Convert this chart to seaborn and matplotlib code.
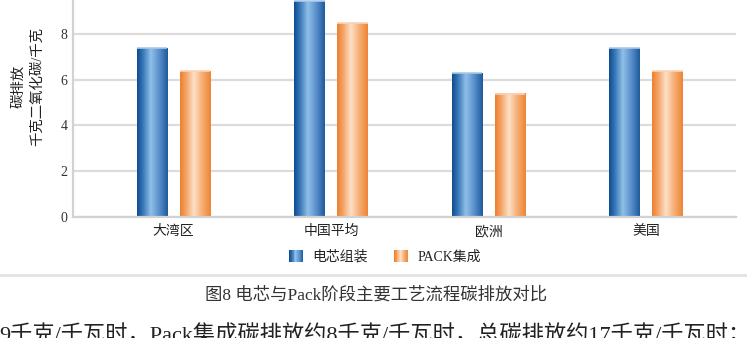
import numpy as np
import pandas as pd
import matplotlib
matplotlib.use("Agg")
import matplotlib.pyplot as plt
import seaborn as sns
from matplotlib.colors import LinearSegmentedColormap, to_hex
from matplotlib.legend_handler import HandlerBase
from matplotlib.patches import Rectangle, Patch
from matplotlib.lines import Line2D

# ---------------- data ----------------
regions = ['大湾区', '中国平均', '欧洲', '美国']
cell_assembly = [7.4, 9.45, 6.3, 7.4]
pack_integration = [6.4, 8.5, 5.4, 6.4]
series_names = ['电芯组装', 'PACK集成']
yticks = [0, 2, 4, 6, 8]
ylabel = '碳排放\n千克二氧化碳/千克'
caption = '图8 电芯与Pack阶段主要工艺流程碳排放对比'
body_text = '9千克/千瓦时，Pack集成碳排放约8千克/千瓦时，总碳排放约17千克/千瓦时；'

df = pd.DataFrame({
    'region': regions * 2,
    'series': [series_names[0]] * len(regions) + [series_names[1]] * len(regions),
    'value': cell_assembly + pack_integration,
})

# ---------------- style ----------------
sns.set_theme(style='white')
plt.rcParams['font.family'] = ['Liberation Serif', 'Noto Sans CJK SC']
plt.rcParams['axes.unicode_minus'] = False

base_colors = {series_names[0]: '#1f5fa0', series_names[1]: '#f08a3a'}
cmaps = {
    series_names[0]: LinearSegmentedColormap.from_list(
        'blue', [(0, '#0b4d90'), (0.18, '#3573b5'), (0.45, '#8fc0e8'),
                 (0.72, '#5a8fcb'), (1, '#1d5a9c')]),
    series_names[1]: LinearSegmentedColormap.from_list(
        'orange', [(0, '#ee7f2e'), (0.18, '#f4a060'), (0.45, '#fde0c7'),
                   (0.72, '#f6ae74'), (1, '#ef8434')]),
}
caps = {series_names[0]: '#a9c9ea', series_names[1]: '#fbd3b3'}

W, H = 747, 338
fig = plt.figure(figsize=(W / 100, H / 100), dpi=100)
zero_px = 216.7
px_per_unit = 22.8
top_px = -25
ax = fig.add_axes([73 / W, (H - zero_px) / H, 663 / W, (zero_px - top_px) / H])

sns.barplot(data=df, x='region', y='value', hue='series', palette=base_colors,
            width=0.546, gap=0.286, saturation=1, legend=False, ax=ax)

xlim = (-0.638, 3.571)
ylim = (0, (zero_px - top_px) / px_per_unit)

grad = np.linspace(0, 1, 256).reshape(1, -1)
for patch in list(ax.patches):
    fc = to_hex(patch.get_facecolor())
    name = series_names[0] if fc == base_colors[series_names[0]] else series_names[1]
    x0, y0 = patch.get_xy()
    w, h = patch.get_width(), patch.get_height()
    ax.imshow(grad, extent=[x0, x0 + w, y0, y0 + h], aspect='auto',
              cmap=cmaps[name], origin='lower', zorder=2, interpolation='bilinear')
    ax.plot([x0, x0 + w], [y0 + h, y0 + h], color=caps[name], lw=1.2, zorder=3,
            solid_capstyle='butt')
    patch.set_facecolor('none')
    patch.set_edgecolor('none')

ax.set_xlim(*xlim)
ax.set_ylim(*ylim)
ax.set_yticks(yticks)
ax.set_yticklabels([str(t) for t in yticks])
ax.set_xlabel('')
ax.set_ylabel('')
ax.yaxis.grid(True, color='#dcdcdc', lw=1.6)
ax.xaxis.grid(False)
ax.set_axisbelow(True)
for s in ['top', 'right']:
    ax.spines[s].set_visible(False)
for s in ['left', 'bottom']:
    ax.spines[s].set_color('#d2d2d2')
    ax.spines[s].set_linewidth(1.6)
ax.tick_params(axis='both', length=0)
ax.tick_params(axis='y', pad=4, labelsize=10, labelcolor='#333333')
ax.tick_params(axis='x', pad=6, labelsize=10, labelcolor='#222222')


class GradHandler(HandlerBase):
    def __init__(self, cmap):
        super().__init__()
        self.cmap = cmap

    def create_artists(self, legend, orig_handle, xdescent, ydescent, width,
                       height, fontsize, trans):
        n = 30
        arts = []
        for i in range(n):
            r = Rectangle((-xdescent + width * i / n, -ydescent), width / n * 1.08,
                          height, facecolor=self.cmap((i + 0.5) / n),
                          edgecolor='none', transform=trans)
            arts.append(r)
        return arts


handles = [Patch(label=n) for n in series_names]
hmap = {h: GradHandler(cmaps[n]) for h, n in zip(handles, series_names)}
fig.legend(handles=handles, labels=series_names, handler_map=hmap,
           loc='center', bbox_to_anchor=(385 / W, (H - 257) / H), ncol=2,
           frameon=False, fontsize=10, handlelength=1.0, handleheight=1.0,
           handletextpad=0.65, columnspacing=1.9, labelcolor='#222222')

fig.text(28 / W, (H - 86) / H, ylabel, rotation=90, ha='center', va='center',
         multialignment='center', fontsize=10.4, linespacing=1.55, color='#222222',
         fontweight='medium')

fig.add_artist(Line2D([0, 1], [(H - 275) / H] * 2, transform=fig.transFigure,
                      color='#e2e2e2', lw=2))

fig.text(376.5 / W, (H - 295) / H, caption, ha='center', va='center',
         fontsize=12.5, color='#333333', fontweight='medium')

fig.text(-1 / W, (H - 341) / H, body_text, ha='left', va='baseline',
         fontsize=16, color='#222222')

fig.savefig('out.png', dpi=100)
